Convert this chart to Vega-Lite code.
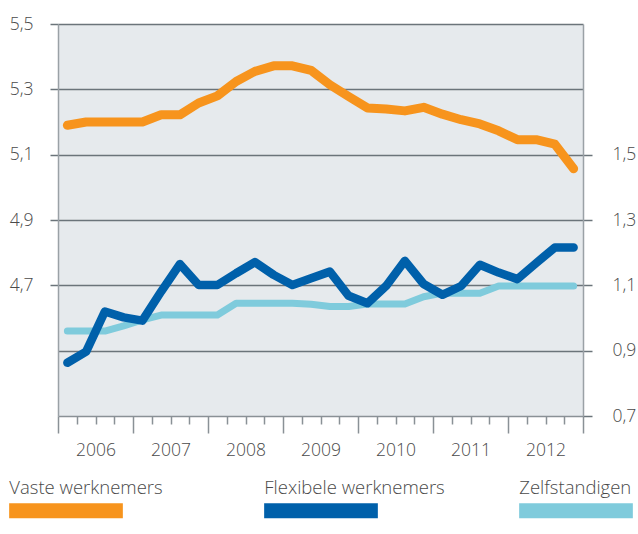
{
  "$schema": "https://vega.github.io/schema/vega-lite/v6.json",
  "width": 525,
  "height": 392,
  "autosize": "none",
  "padding": {"left": 58, "top": 24, "right": 55, "bottom": 118},
  "background": "white",
  "config": {
    "view": {"fill": "#e6eaed", "stroke": null},
    "font": "Open Sans",
    "axis": {"labelFont": "Open Sans", "labelFontWeight": 300, "labelFontSize": 17.5, "labelColor": "#4a4a4a", "title": null},
    "legend": {
      "orient": "none",
      "legendX": -56.5,
      "legendY": 399,
      "direction": "horizontal",
      "symbolType": "M-1,0.405H1",
      "symbolSize": 12927,
      "symbolStrokeWidth": 15,
      "labelOffset": -121.2,
      "labelFont": "Open Sans",
      "labelFontWeight": 300,
      "labelFontSize": 18.5,
      "labelColor": "#4a4a4a",
      "labelLimit": 400,
      "gridAlign": "all",
      "columnPadding": 43,
      "padding": 0,
      "title": null
    }
  },
  "data": {
    "values": [
      {"t": 2006.125, "series": "Vaste werknemers", "v": 5.19},
      {"t": 2006.375, "series": "Vaste werknemers", "v": 5.2},
      {"t": 2006.625, "series": "Vaste werknemers", "v": 5.2},
      {"t": 2006.875, "series": "Vaste werknemers", "v": 5.2},
      {"t": 2007.125, "series": "Vaste werknemers", "v": 5.2},
      {"t": 2007.375, "series": "Vaste werknemers", "v": 5.222},
      {"t": 2007.625, "series": "Vaste werknemers", "v": 5.222},
      {"t": 2007.875, "series": "Vaste werknemers", "v": 5.258},
      {"t": 2008.125, "series": "Vaste werknemers", "v": 5.28},
      {"t": 2008.375, "series": "Vaste werknemers", "v": 5.324},
      {"t": 2008.625, "series": "Vaste werknemers", "v": 5.355},
      {"t": 2008.875, "series": "Vaste werknemers", "v": 5.372},
      {"t": 2009.125, "series": "Vaste werknemers", "v": 5.372},
      {"t": 2009.375, "series": "Vaste werknemers", "v": 5.358},
      {"t": 2009.625, "series": "Vaste werknemers", "v": 5.314},
      {"t": 2009.875, "series": "Vaste werknemers", "v": 5.278},
      {"t": 2010.125, "series": "Vaste werknemers", "v": 5.243},
      {"t": 2010.375, "series": "Vaste werknemers", "v": 5.24},
      {"t": 2010.625, "series": "Vaste werknemers", "v": 5.234},
      {"t": 2010.875, "series": "Vaste werknemers", "v": 5.245},
      {"t": 2011.125, "series": "Vaste werknemers", "v": 5.224},
      {"t": 2011.375, "series": "Vaste werknemers", "v": 5.207},
      {"t": 2011.625, "series": "Vaste werknemers", "v": 5.194},
      {"t": 2011.875, "series": "Vaste werknemers", "v": 5.173},
      {"t": 2012.125, "series": "Vaste werknemers", "v": 5.146},
      {"t": 2012.375, "series": "Vaste werknemers", "v": 5.146},
      {"t": 2012.625, "series": "Vaste werknemers", "v": 5.132},
      {"t": 2012.875, "series": "Vaste werknemers", "v": 5.057},
      {"t": 2006.125, "series": "Flexibele werknemers", "v": 0.863},
      {"t": 2006.375, "series": "Flexibele werknemers", "v": 0.897},
      {"t": 2006.625, "series": "Flexibele werknemers", "v": 1.02},
      {"t": 2006.875, "series": "Flexibele werknemers", "v": 1.002},
      {"t": 2007.125, "series": "Flexibele werknemers", "v": 0.992},
      {"t": 2007.375, "series": "Flexibele werknemers", "v": 1.081},
      {"t": 2007.625, "series": "Flexibele werknemers", "v": 1.165},
      {"t": 2007.875, "series": "Flexibele werknemers", "v": 1.101},
      {"t": 2008.125, "series": "Flexibele werknemers", "v": 1.101},
      {"t": 2008.375, "series": "Flexibele werknemers", "v": 1.137},
      {"t": 2008.625, "series": "Flexibele werknemers", "v": 1.171},
      {"t": 2008.875, "series": "Flexibele werknemers", "v": 1.132},
      {"t": 2009.125, "series": "Flexibele werknemers", "v": 1.101},
      {"t": 2009.375, "series": "Flexibele werknemers", "v": 1.122},
      {"t": 2009.625, "series": "Flexibele werknemers", "v": 1.142},
      {"t": 2009.875, "series": "Flexibele werknemers", "v": 1.068},
      {"t": 2010.125, "series": "Flexibele werknemers", "v": 1.045},
      {"t": 2010.375, "series": "Flexibele werknemers", "v": 1.098},
      {"t": 2010.625, "series": "Flexibele werknemers", "v": 1.175},
      {"t": 2010.875, "series": "Flexibele werknemers", "v": 1.104},
      {"t": 2011.125, "series": "Flexibele werknemers", "v": 1.071},
      {"t": 2011.375, "series": "Flexibele werknemers", "v": 1.098},
      {"t": 2011.625, "series": "Flexibele werknemers", "v": 1.163},
      {"t": 2011.875, "series": "Flexibele werknemers", "v": 1.139},
      {"t": 2012.125, "series": "Flexibele werknemers", "v": 1.119},
      {"t": 2012.375, "series": "Flexibele werknemers", "v": 1.168},
      {"t": 2012.625, "series": "Flexibele werknemers", "v": 1.216},
      {"t": 2012.875, "series": "Flexibele werknemers", "v": 1.216},
      {"t": 2006.125, "series": "Zelfstandigen", "v": 0.96},
      {"t": 2006.375, "series": "Zelfstandigen", "v": 0.96},
      {"t": 2006.625, "series": "Zelfstandigen", "v": 0.96},
      {"t": 2006.875, "series": "Zelfstandigen", "v": 0.976},
      {"t": 2007.125, "series": "Zelfstandigen", "v": 0.994},
      {"t": 2007.375, "series": "Zelfstandigen", "v": 1.009},
      {"t": 2007.625, "series": "Zelfstandigen", "v": 1.009},
      {"t": 2007.875, "series": "Zelfstandigen", "v": 1.009},
      {"t": 2008.125, "series": "Zelfstandigen", "v": 1.009},
      {"t": 2008.375, "series": "Zelfstandigen", "v": 1.045},
      {"t": 2008.625, "series": "Zelfstandigen", "v": 1.045},
      {"t": 2008.875, "series": "Zelfstandigen", "v": 1.045},
      {"t": 2009.125, "series": "Zelfstandigen", "v": 1.045},
      {"t": 2009.375, "series": "Zelfstandigen", "v": 1.042},
      {"t": 2009.625, "series": "Zelfstandigen", "v": 1.035},
      {"t": 2009.875, "series": "Zelfstandigen", "v": 1.035},
      {"t": 2010.125, "series": "Zelfstandigen", "v": 1.043},
      {"t": 2010.375, "series": "Zelfstandigen", "v": 1.043},
      {"t": 2010.625, "series": "Zelfstandigen", "v": 1.043},
      {"t": 2010.875, "series": "Zelfstandigen", "v": 1.065},
      {"t": 2011.125, "series": "Zelfstandigen", "v": 1.076},
      {"t": 2011.375, "series": "Zelfstandigen", "v": 1.076},
      {"t": 2011.625, "series": "Zelfstandigen", "v": 1.076},
      {"t": 2011.875, "series": "Zelfstandigen", "v": 1.098},
      {"t": 2012.125, "series": "Zelfstandigen", "v": 1.098},
      {"t": 2012.375, "series": "Zelfstandigen", "v": 1.098},
      {"t": 2012.625, "series": "Zelfstandigen", "v": 1.098},
      {"t": 2012.875, "series": "Zelfstandigen", "v": 1.098}
    ]
  },
  "encoding": {
    "x": {
      "field": "t",
      "type": "quantitative",
      "scale": {"domain": [2006, 2013], "nice": false, "zero": false},
      "axis": {
        "values": [2006, 2006.25, 2006.5, 2006.75, 2007, 2007.25, 2007.5, 2007.75, 2008, 2008.25, 2008.5, 2008.75, 2009, 2009.25, 2009.5, 2009.75, 2010, 2010.25, 2010.5, 2010.75, 2011, 2011.25, 2011.5, 2011.75, 2012, 2012.25, 2012.5, 2012.75, 2013],
        "labelExpr": "(datum.value % 1) == 0.5 ? toString(floor(datum.value)) : ''",
        "labelFlush": false,
        "labelOverlap": false,
        "labelPadding": 17,
        "tickSize": {"condition": {"test": "(datum.value % 1) == 0", "value": 17}, "value": 8},
        "tickColor": "#8a9196",
        "tickWidth": 1.5,
        "domainColor": "#8a9196",
        "domainWidth": 1.5,
        "grid": false
      }
    },
    "color": {
      "field": "series",
      "type": "nominal",
      "scale": {
        "domain": ["Vaste werknemers", "Flexibele werknemers", "Zelfstandigen"],
        "range": ["#F7941D", "#0060AA", "#7FCBDC"]
      }
    }
  },
  "layer": [
    {
      "transform": [{"filter": "datum.series == 'Vaste werknemers'"}],
      "mark": {"type": "line", "strokeWidth": 9, "strokeCap": "round", "strokeJoin": "round"},
      "encoding": {
        "y": {
          "field": "v",
          "type": "quantitative",
          "scale": {"domain": [4.3, 5.5], "nice": false, "zero": false},
          "axis": {
            "orient": "left",
            "values": [4.5, 4.7, 4.9, 5.1, 5.3, 5.5],
            "labelExpr": "datum.value < 4.6 ? '' : replace(format(datum.value, '.1f'), '.', ',')",
            "grid": true,
            "gridColor": "#6b747a",
            "gridWidth": 1.5,
            "tickSize": 8,
            "tickColor": "#6b747a",
            "tickWidth": 1.5,
            "tickOpacity": {"condition": {"test": "datum.value < 4.6", "value": 0}, "value": 1},
            "labelPadding": 17,
            "domainColor": "#9aa1a6",
            "domainWidth": 1.5
          }
        }
      }
    },
    {
      "encoding": {
        "y": {
          "field": "v",
          "type": "quantitative",
          "scale": {"domain": [0.7, 1.9], "nice": false, "zero": false},
          "axis": {
            "orient": "right",
            "values": [0.7, 0.9, 1.1, 1.3, 1.5],
            "labelExpr": "replace(format(datum.value, '.1f'), '.', ',')",
            "grid": false,
            "tickSize": 9,
            "tickColor": "#6b747a",
            "tickWidth": 1.5,
            "labelPadding": 20,
            "domainColor": "#9aa1a6",
            "domainWidth": 1.5
          }
        }
      },
      "layer": [
        {
          "transform": [{"filter": "datum.series == 'Zelfstandigen'"}],
          "mark": {"type": "line", "strokeWidth": 7, "strokeCap": "round", "strokeJoin": "round"}
        },
        {
          "transform": [{"filter": "datum.series == 'Flexibele werknemers'"}],
          "mark": {"type": "line", "strokeWidth": 8.5, "strokeCap": "round", "strokeJoin": "round"}
        }
      ]
    }
  ],
  "resolve": {"scale": {"y": "independent"}}
}
